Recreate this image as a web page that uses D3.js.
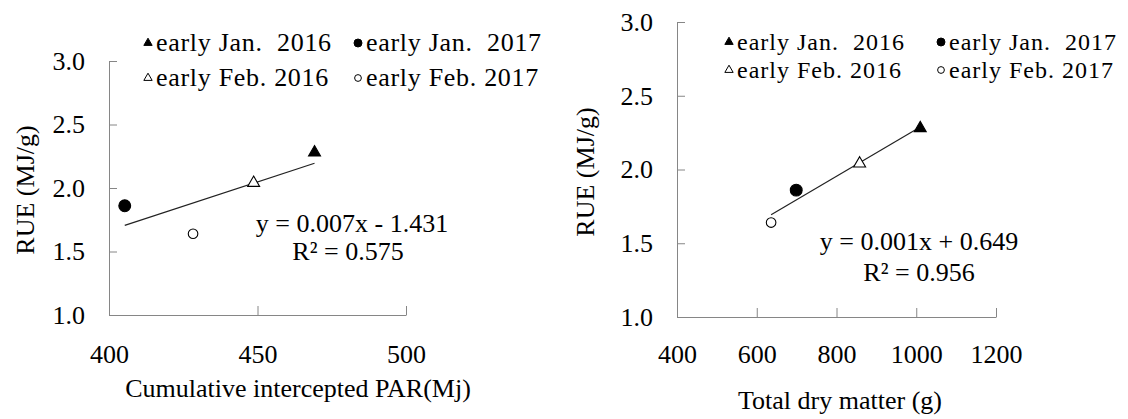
<!DOCTYPE html>
<html>
<head>
<meta charset="utf-8">
<script src="https://cdn.jsdelivr.net/npm/d3@7"></script>
<style>
  body { margin: 0; background: #fff; }
  svg text { font-family: "Liberation Serif", "Times New Roman", serif; fill: #000; }
</style>
</head>
<body>
<div id="main"></div>
<script>
// series in legend order (row 1: Jan, row 2: Feb)
const seriesNames = ['early Jan.  2016', 'early Jan.  2017', 'early Feb. 2016', 'early Feb. 2017'];
const seriesShape = ['triangle', 'circle', 'triangle', 'circle'];
const seriesFilled = [true, true, false, false];

// RUE (MJ/g) for each series, same in both panels
const rueValues = [2.28, 1.86, 2.04, 1.64];
// cumulative intercepted PAR (Mj)
const parValues = [469.2, 405.3, 448.7, 428.3];
// total dry matter (g)
const dryValues = [1010, 699, 858, 636];

const rueTicks = [1.0, 1.5, 2.0, 2.5, 3.0];
const parTicks = [400, 450, 500];
const dryTicks = [400, 600, 800, 1000, 1200];

const eqLeft = ['y = 0.007x - 1.431', 'R\u00b2 = 0.575'];
const eqRight = ['y = 0.001x + 0.649', 'R\u00b2 = 0.956'];

const w = 1128;
const h = 419;
const fontSize = 26;

const svg = d3.select('#main')
    .append('svg')
    .attr('width', w)
    .attr('height', h)
    .attr('font-family', '"Liberation Serif", "Times New Roman", serif');

// least squares fit for the trend line
function fit(xs, ys) {
    const mx = d3.mean(xs), my = d3.mean(ys);
    const sxy = d3.sum(xs, (x, i) => (x - mx) * (ys[i] - my));
    const sxx = d3.sum(xs, x => (x - mx) * (x - mx));
    const b = sxy / sxx;
    return x => my + b * (x - mx);
}

function symbolPath(i, small) {
    if (seriesShape[i] === 'triangle')
        return d3.symbol(d3.symbolTriangle, small ? 30 : 62)();
    if (seriesFilled[i])
        return d3.symbol(d3.symbolCircle, small ? 50 : 110)();
    return d3.symbol(d3.symbolCircle, small ? 36 : 72)();
}

function drawPanel(p) {
    const x = d3.scaleLinear().domain([p.xTicks[0], p.xTicks[p.xTicks.length - 1]]).range(p.xRange);
    const y = d3.scaleLinear().domain([1, 3]).range(p.yRange);

    // axes, ticks point into the plot
    const xAxis = d3.axisBottom(x).tickValues(p.xTicks).tickSize(-9).tickSizeOuter(0)
        .tickPadding(p.xPad).tickFormat(d3.format('d'));
    const yAxis = d3.axisLeft(y).tickValues(rueTicks).tickSize(-8).tickSizeOuter(0)
        .tickPadding(24).tickFormat(d3.format('.1f'));

    [svg.append('g').attr('transform', `translate(0,${p.yRange[0]})`).call(xAxis),
     svg.append('g').attr('transform', `translate(${p.xRange[0]},0)`).call(yAxis)]
        .forEach(g => {
            g.attr('font-size', fontSize).attr('font-family', null);
            g.selectAll('path, line').attr('stroke', '#868686');
        });

    // trend line over the range of the data
    const f = fit(p.xs, rueValues);
    svg.append('path')
        .datum(d3.extent(p.xs))
        .attr('fill', 'none')
        .attr('stroke', '#222')
        .attr('stroke-width', 1.2)
        .attr('d', d3.line().x(d => x(d)).y(d => y(f(d))));

    // points
    svg.append('g')
        .selectAll('path')
        .data(p.xs.map((v, i) => ({ x: v, y: rueValues[i], i: i })))
        .enter()
        .append('path')
        .attr('transform', d => `translate(${x(d.x)},${y(d.y)})`)
        .attr('d', d => symbolPath(d.i, false))
        .attr('fill', d => seriesFilled[d.i] ? '#000' : '#fff')
        .attr('stroke', '#000')
        .attr('stroke-width', 1.1);

    // legend, 2 x 2
    const lg = svg.append('g').attr('class', 'legend');
    seriesNames.forEach((name, i) => {
        const col = i % 2, row = Math.floor(i / 2);
        const mx = p.legend.x[col], by = p.legend.y[row];
        lg.append('path')
            .attr('transform', `translate(${mx},${by - 8})`)
            .attr('d', symbolPath(i, true))
            .attr('fill', seriesFilled[i] ? '#000' : '#fff')
            .attr('stroke', '#000')
            .attr('stroke-width', 1);
        lg.append('text')
            .attr('x', mx + 8)
            .attr('y', by)
            .attr('font-size', p.legend.size)
            .attr('letter-spacing', p.legend.spacing)
            .style('white-space', 'pre')
            .text(name);
    });

    // equation
    svg.append('g').selectAll('text')
        .data(p.eq)
        .enter()
        .append('text')
        .attr('x', (d, i) => p.eqPos.x[i])
        .attr('y', (d, i) => p.eqPos.y[i])
        .attr('text-anchor', 'middle')
        .attr('font-size', fontSize)
        .text(d => d);

    // axis titles
    svg.append('text')
        .attr('x', p.xLabel.x)
        .attr('y', p.xLabel.y)
        .attr('text-anchor', 'middle')
        .attr('font-size', fontSize)
        .text(p.xTitle);

    svg.append('text')
        .attr('transform', `translate(${p.yLabel.x},${p.yLabel.y}) rotate(-90)`)
        .attr('text-anchor', 'middle')
        .attr('font-size', fontSize)
        .text('RUE (MJ/g)');
}

drawPanel({
    xs: parValues,
    xTicks: parTicks,
    xRange: [109, 406],
    yRange: [315, 61],
    xPad: 30,
    legend: { x: [148, 358], y: [51, 86], size: 26, spacing: 0.7 },
    eq: eqLeft,
    eqPos: { x: [352, 348], y: [232, 260] },
    xTitle: 'Cumulative intercepted PAR(Mj)',
    xLabel: { x: 298, y: 397 },
    yLabel: { x: 34, y: 190 }
});

drawPanel({
    xs: dryValues,
    xTicks: dryTicks,
    xRange: [677, 996],
    yRange: [317, 22],
    xPad: 28,
    legend: { x: [729, 941], y: [50, 78], size: 24, spacing: 1 },
    eq: eqRight,
    eqPos: { x: [919, 919], y: [250, 281] },
    xTitle: 'Total dry matter (g)',
    xLabel: { x: 840, y: 409 },
    yLabel: { x: 594, y: 172 }
});
</script>
</body>
</html>
